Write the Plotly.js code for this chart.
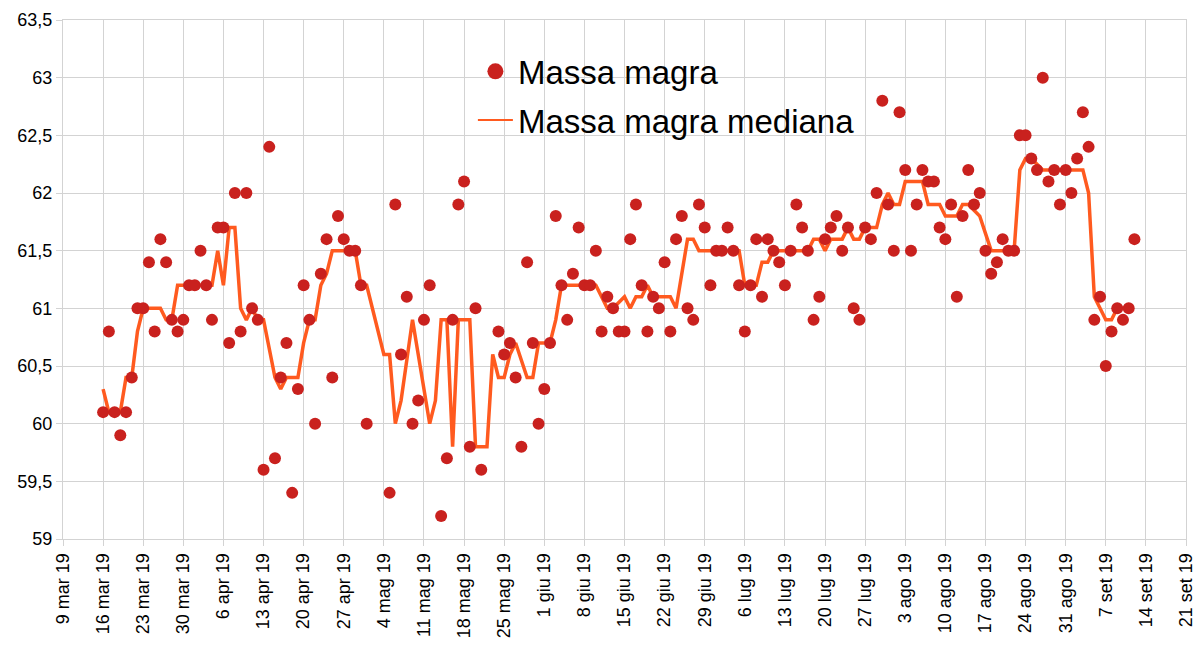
<!DOCTYPE html>
<html>
<head>
<meta charset="utf-8">
<script src="https://cdn.plot.ly/plotly-3.0.1.min.js"></script>
<style>
  html, body { margin: 0; padding: 0; background: #fff; }
  #chart { width: 1201px; height: 648px; }
</style>
</head>
<body>
<div id="chart"></div>
<script>
// Massa magra: daily readings (month-day, 2019)
const massaDates = [
  '03-16','03-17','03-18','03-19','03-20','03-21','03-22','03-23','03-24','03-25','03-26','03-27','03-28','03-29','03-30','03-31',
  '04-01','04-02','04-03','04-04','04-05','04-06','04-07','04-08','04-09','04-10','04-11','04-12','04-13','04-14','04-15','04-16',
  '04-17','04-18','04-19','04-20','04-21','04-22','04-23','04-24','04-25','04-26','04-27','04-28','04-29','04-30',
  '05-01','05-05','05-06','05-07','05-08','05-09','05-10','05-11','05-12','05-14','05-15','05-16','05-17','05-18','05-19','05-20',
  '05-21','05-24','05-25','05-26','05-27','05-28','05-29','05-30','05-31',
  '06-01','06-02','06-03','06-04','06-05','06-06','06-07','06-08','06-09','06-10','06-11','06-12','06-13','06-14','06-15','06-16',
  '06-17','06-18','06-19','06-20','06-21','06-22','06-23','06-24','06-25','06-26','06-27','06-28','06-29','06-30',
  '07-01','07-02','07-03','07-04','07-05','07-06','07-07','07-08','07-09','07-10','07-11','07-12','07-13','07-14','07-15','07-16',
  '07-17','07-18','07-19','07-20','07-21','07-22','07-23','07-24','07-25','07-26','07-27','07-28','07-29','07-30','07-31',
  '08-01','08-02','08-03','08-04','08-05','08-06','08-07','08-08','08-09','08-10','08-11','08-12','08-13','08-14','08-15','08-16',
  '08-17','08-18','08-19','08-20','08-21','08-22','08-23','08-24','08-25','08-26','08-27','08-28','08-29','08-30','08-31',
  '09-01','09-02','09-03','09-04','09-05','09-06','09-07','09-08','09-09','09-10','09-11','09-12'
];
const massaValues = [
  60.1,60.8,60.1,59.9,60.1,60.4,61.0,61.0,61.4,60.8,61.6,61.4,60.9,60.8,60.9,61.2,
  61.2,61.5,61.2,60.9,61.7,61.7,60.7,62.0,60.8,62.0,61.0,60.9,59.6,62.4,59.7,60.4,
  60.7,59.4,60.3,61.2,60.9,60.0,61.3,61.6,60.4,61.8,61.6,61.5,61.5,61.2,
  60.0,59.4,61.9,60.6,61.1,60.0,60.2,60.9,61.2,59.2,59.7,60.9,61.9,62.1,59.8,61.0,
  59.6,60.8,60.6,60.7,60.4,59.8,61.4,60.7,60.0,
  60.3,60.7,61.8,61.2,60.9,61.3,61.7,61.2,61.2,61.5,60.8,61.1,61.0,60.8,60.8,61.6,
  61.9,61.2,60.8,61.1,61.0,61.4,60.8,61.6,61.8,61.0,60.9,61.9,61.7,61.2,
  61.5,61.5,61.7,61.5,61.2,60.8,61.2,61.6,61.1,61.6,61.5,61.4,61.2,61.5,61.9,61.7,
  61.5,60.9,61.1,61.6,61.7,61.8,61.5,61.7,61.0,60.9,61.7,61.6,62.0,62.8,61.9,
  61.5,62.7,62.2,61.5,61.9,62.2,62.1,62.1,61.7,61.6,61.9,61.1,61.8,62.2,61.9,62.0,
  61.5,61.3,61.4,61.6,61.5,61.5,62.5,62.5,62.3,62.2,63.0,62.1,62.2,61.9,62.2,
  62.0,62.3,62.7,62.4,60.9,61.1,60.5,60.8,61.0,60.9,61.0,61.6
];

// Massa magra mediana
const medianaDates = [
  '03-16','03-17','03-18','03-19','03-20','03-21','03-22','03-23','03-24','03-25','03-26','03-27','03-28','03-29','03-30','03-31',
  '04-01','04-02','04-03','04-04','04-05','04-06','04-07','04-08','04-09','04-10','04-11','04-12','04-13','04-14','04-15','04-16',
  '04-17','04-18','04-19','04-20','04-21','04-22','04-23','04-24','04-25','04-26','04-27','04-28','04-29','04-30',
  '05-01','05-04','05-05','05-06','05-07','05-08','05-09','05-10','05-11','05-12','05-13','05-14','05-15','05-16','05-17','05-18',
  '05-19','05-20','05-21','05-22','05-23','05-24','05-25','05-26','05-27','05-28','05-29','05-30','05-31',
  '06-01','06-02','06-03','06-04','06-05','06-06','06-07','06-08','06-09','06-10','06-11','06-12','06-13','06-14','06-15','06-16',
  '06-17','06-18','06-19','06-20','06-21','06-22','06-23','06-24','06-25','06-26','06-27','06-28','06-29','06-30',
  '07-01','07-02','07-03','07-04','07-05','07-06','07-07','07-08','07-09','07-10','07-11','07-12','07-13','07-14','07-15','07-16',
  '07-17','07-18','07-19','07-20','07-21','07-22','07-23','07-24','07-25','07-26','07-27','07-28','07-29','07-30','07-31',
  '08-01','08-02','08-03','08-04','08-05','08-06','08-07','08-08','08-09','08-10','08-11','08-12','08-13','08-14','08-15','08-16',
  '08-17','08-18','08-19','08-20','08-21','08-22','08-23','08-24','08-25','08-26','08-27','08-28','08-29','08-30','08-31',
  '09-01','09-02','09-03','09-04','09-05','09-06','09-07','09-08','09-09'
];
const medianaValues = [
  60.3,60.1,60.1,60.1,60.4,60.4,60.8,61.0,61.0,61.0,61.0,60.9,60.9,61.2,61.2,61.2,
  61.2,61.2,61.2,61.2,61.5,61.2,61.7,61.7,61.0,60.9,61.0,60.9,60.9,60.65,60.4,60.3,
  60.4,60.4,60.4,60.7,60.9,60.9,61.2,61.3,61.5,61.5,61.5,61.5,61.5,61.2,
  61.2,60.6,60.6,60.0,60.2,60.55,60.9,60.6,60.3,60.0,60.2,60.9,60.9,59.8,60.9,60.9,
  60.9,59.8,59.8,59.8,60.6,60.4,60.4,60.6,60.7,60.55,60.4,60.4,60.7,
  60.7,60.7,60.9,61.2,61.2,61.2,61.2,61.2,61.2,61.2,61.1,61.0,61.0,61.05,61.1,61.0,
  61.1,61.1,61.2,61.1,61.1,61.1,61.1,61.0,61.3,61.6,61.6,61.5,61.5,61.5,
  61.5,61.5,61.5,61.5,61.5,61.2,61.2,61.2,61.4,61.4,61.5,61.5,61.5,61.5,61.5,61.5,
  61.5,61.6,61.6,61.5,61.6,61.6,61.6,61.7,61.6,61.6,61.7,61.7,61.7,61.9,62.0,
  61.9,61.9,62.1,62.1,62.1,62.1,61.9,61.9,61.9,61.8,61.8,61.8,61.9,61.9,61.85,61.8,
  61.65,61.5,61.5,61.5,61.5,61.5,62.2,62.3,62.3,62.25,62.2,62.2,62.2,62.2,62.2,
  62.2,62.2,62.2,62.0,61.1,61.0,60.9,60.9,61.0
];

const tickDates = [
  '2019-03-09','2019-03-16','2019-03-23','2019-03-30','2019-04-06','2019-04-13','2019-04-20','2019-04-27',
  '2019-05-04','2019-05-11','2019-05-18','2019-05-25','2019-06-01','2019-06-08','2019-06-15','2019-06-22',
  '2019-06-29','2019-07-06','2019-07-13','2019-07-20','2019-07-27','2019-08-03','2019-08-10','2019-08-17',
  '2019-08-24','2019-08-31','2019-09-07','2019-09-14','2019-09-21'
];
const tickLabels = [
  '9 mar 19','16 mar 19','23 mar 19','30 mar 19','6 apr 19','13 apr 19','20 apr 19','27 apr 19',
  '4 mag 19','11 mag 19','18 mag 19','25 mag 19','1 giu 19','8 giu 19','15 giu 19','22 giu 19',
  '29 giu 19','6 lug 19','13 lug 19','20 lug 19','27 lug 19','3 ago 19','10 ago 19','17 ago 19',
  '24 ago 19','31 ago 19','7 set 19','14 set 19','21 set 19'
];

const RED = '#c9211e';
const ORANGE = '#ff5a1f';
const GRID = '#d3d3d3';
const FONT = 'Liberation Sans, Arial, sans-serif';
const full = (md) => '2019-' + md;

const traces = [
  {
    x: medianaDates.map(full), y: medianaValues, type: 'scatter', mode: 'lines',
    name: 'Massa magra mediana', showlegend: false,
    line: { color: ORANGE, width: 3.5 }, hoverinfo: 'x+y',
  },
  {
    x: massaDates.map(full), y: massaValues, type: 'scatter', mode: 'markers',
    name: 'Massa magra', showlegend: false,
    marker: { color: RED, size: 12 }, hoverinfo: 'x+y',
  },
  // legend-only entries (no data)
  {
    x: [null], y: [null], type: 'scatter', mode: 'markers', name: 'Massa magra',
    marker: { color: RED, size: 20 }, legend: 'legend',
  },
  {
    x: [null], y: [null], type: 'scatter', mode: 'lines', name: 'Massa magra mediana',
    line: { color: ORANGE, width: 2 }, legend: 'legend2',
  },
];

const axisStyle = {
  showgrid: true, gridcolor: GRID, gridwidth: 1,
  showline: true, linecolor: GRID, linewidth: 1, mirror: true,
  ticks: 'outside', ticklen: 6, tickcolor: GRID,
  zeroline: false,
  tickfont: { family: FONT, size: 18, color: '#000' },
};

const legendStyle = {
  xanchor: 'left', yanchor: 'top', bgcolor: 'rgba(0,0,0,0)', borderwidth: 0,
  itemwidth: 35,
  font: { family: FONT, size: 33, color: '#000' },
};

const layout = {
  width: 1201, height: 648,
  margin: { l: 63, r: 15, t: 20, b: 109 },
  paper_bgcolor: '#fff', plot_bgcolor: '#fff',
  separators: ',.',
  font: { family: FONT, color: '#000' },
  hovermode: 'closest',
  xaxis: {
    ...axisStyle, type: 'date',
    range: ['2019-03-09', '2019-09-21'],
    tickmode: 'array', tickvals: tickDates, ticktext: tickLabels,
    tickangle: -90,
  },
  yaxis: {
    ...axisStyle,
    range: [59, 63.5], tick0: 59, dtick: 0.5,
  },
  legend: { ...legendStyle, x: 0.365, y: 0.955 },
  legend2: { ...legendStyle, x: 0.365, y: 0.861 },
};

Plotly.newPlot('chart', traces, layout, { displayModeBar: false, staticPlot: false });
</script>
</body>
</html>
